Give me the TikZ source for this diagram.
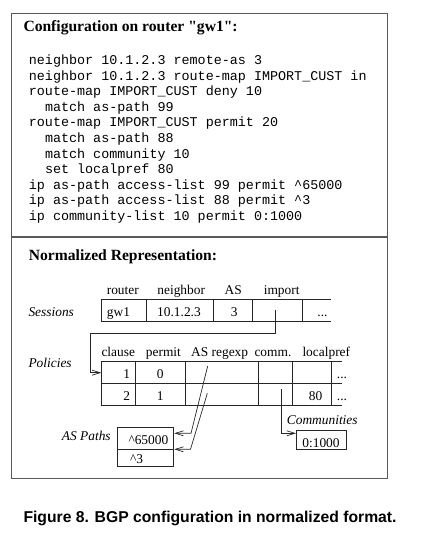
\documentclass[tikz,border=0pt]{standalone}
\usepackage{fontspec}
\setmainfont{Liberation Serif}
\newfontfamily\codefont{Liberation Mono}
\newfontfamily\capfont{Liberation Sans}
\usetikzlibrary{arrows.meta}
\tikzset{
  codeln/.style={anchor=base west, inner sep=0pt, font=\codefont\fontsize{13.4}{15}\selectfont},
  ttl/.style={anchor=base west, inner sep=0pt, font=\bfseries\fontsize{15.6}{18}\selectfont},
  cell/.style={anchor=base, inner sep=0pt, font=\fontsize{13.4}{15}\selectfont},
  hdr/.style={anchor=base west, inner sep=0pt, font=\fontsize{13.4}{15}\selectfont},
  lbl/.style={anchor=base west, inner sep=0pt, font=\itshape\fontsize{13.4}{15}\selectfont},
  frame/.style={line width=1.1pt, draw=black!65},
  tbl/.style={line width=0.9pt, draw=black!85},
  boxn/.style={draw=black!85, line width=0.9pt, inner sep=0pt, anchor=north west},
  arr/.style={line width=0.7pt, draw=black!85, -{Straight Barb[length=8pt,width=5pt]}}
}
\begin{document}
\begin{tikzpicture}[x=1pt,y=-1pt]
\useasboundingbox (0,0) rectangle (430,541);
% frame
\draw[frame] (11.7,13.7) rectangle (387.3,478.3);
\draw[frame] (11.7,237) -- (387.3,237);
% configuration
\node[ttl] (t1) at (23.3,31.7) {Configuration on router \textquotedbl gw1\textquotedbl:};
\node[codeln] (c1) at (28.7,64.5) {neighbor 10.1.2.3 remote-as 3};
\node[codeln] (c2) at (28.7,80.1) {neighbor 10.1.2.3 route-map IMPORT\_CUST in};
\node[codeln] (c3) at (28.7,95.7) {route-map IMPORT\_CUST deny 10};
\node[codeln] (c4) at (44.8,111.3) {match as-path 99};
\node[codeln] (c5) at (28.7,126.9) {route-map IMPORT\_CUST permit 20};
\node[codeln] (c6) at (44.8,142.5) {match as-path 88};
\node[codeln] (c7) at (44.8,158.1) {match community 10};
\node[codeln] (c8) at (44.8,173.7) {set localpref 80};
\node[codeln] (c9) at (28.7,189.3) {ip as-path access-list 99 permit \textasciicircum65000};
\node[codeln] (c10) at (28.7,204.9) {ip as-path access-list 88 permit \textasciicircum3};
\node[codeln] (c11) at (28.7,220.5) {ip community-list 10 permit 0:1000};
% normalized
\node[ttl] (t2) at (28.7,260) {Normalized Representation:};
% sessions
\node[lbl] (lses) at (28.3,316) {Sessions};
\node[cell] (h1) at (122.8,294.3) {router};
\node[cell] (h2) at (181.2,294.3) {neighbor};
\node[cell] (h3) at (233.3,294.3) {AS};
\node[cell] (h4) at (281.7,294.3) {import};
\draw[tbl] (101.3,299.3) -- (331,299.3) (101.3,321.7) -- (331,321.7);
\foreach \x in {101.3,146,213.3,252.3,302.7} \draw[tbl] (\x,299.3) -- (\x,321.7);
\node[hdr] (s1) at (106.7,316) {gw1};
\node[cell] (s2) at (179,316) {10.1.2.3};
\node[cell] (s3) at (234.3,316) {3};
\node[cell] (s4) at (322.5,316) {...};
% policies
\node[lbl] (lpol) at (28.3,367) {Policies};
\node[hdr] (p1) at (101.3,356.5) {clause};
\node[hdr] (p2) at (145.7,356.5) {permit};
\node[hdr] (p3) at (191,356.5) {AS regexp};
\node[hdr] (p4) at (254.3,356.5) {comm.};
\node[hdr] (p5) at (302.3,356.5) {localpref};
\foreach \y in {361,383.3,405.7} \draw[tbl] (101.3,\y) -- (342,\y);
\foreach \x in {101.3,135,185,258.3,292,331} \draw[tbl] (\x,361) -- (\x,405.7);
\node[cell] (r1a) at (126.8,378) {1};
\node[cell] (r1b) at (160.3,378) {0};
\node[cell] (r1e) at (342,378) {...};
\node[cell] (r2a) at (126.8,400) {2};
\node[cell] (r2b) at (160.3,400) {1};
\node[cell] (r2d) at (315.5,400) {80};
\node[cell] (r2e) at (342,400) {...};
% AS paths
\node[lbl] (lasp) at (61.7,440.7) {AS Paths};
\node[boxn, minimum width=56.6pt, minimum height=22pt] (asp1) at (116.7,427.3) {};
\node[boxn, minimum width=56.6pt, minimum height=16.7pt] (asp2) at (116.7,449.3) {};
\node[hdr] (a1) at (128.3,444) {\textasciicircum65000};
\node[hdr] (a2) at (130,463) {\textasciicircum3};
% communities
\node[lbl] (lcom) at (286.7,424) {Communities};
\node[boxn, minimum width=49.7pt, minimum height=19pt] (com) at (296,430.3) {};
\node[cell] (cm1) at (321,447) {0:1000};
% arrows
\coordinate (imp) at (275.3,310);
\coordinate (b1) at (275.3,333.3);
\coordinate (b2) at (90,333.3);
\coordinate (b3) at (90,372.7);
\coordinate (polin) at (101.3,372.7);
\draw[arr] (imp) -- (b1) -- (b2) -- (b3) -- (polin);
\coordinate (re1) at (207.7,366);
\coordinate (rb1) at (191,433.3);
\coordinate (rt1) at (174.3,433.3);
\draw[arr] (re1) -- (rb1) -- (rt1);
\coordinate (re2) at (207.3,393.3);
\coordinate (rb2) at (190.5,449.3);
\coordinate (rt2) at (174.3,449.3);
\draw[arr] (re2) -- (rb2) -- (rt2);
\coordinate (ce) at (281,389.3);
\coordinate (cb) at (281,433.3);
\coordinate (ct) at (296,433.3);
\draw[arr] (ce) -- (cb) -- (ct);
% caption
\node[anchor=base west, inner sep=0pt, font=\capfont\bfseries\fontsize{15.7}{18}\selectfont] (cap) at (23.3,522.5) {Figure 8. BGP configuration in normalized format.};
\end{tikzpicture}
\end{document}
